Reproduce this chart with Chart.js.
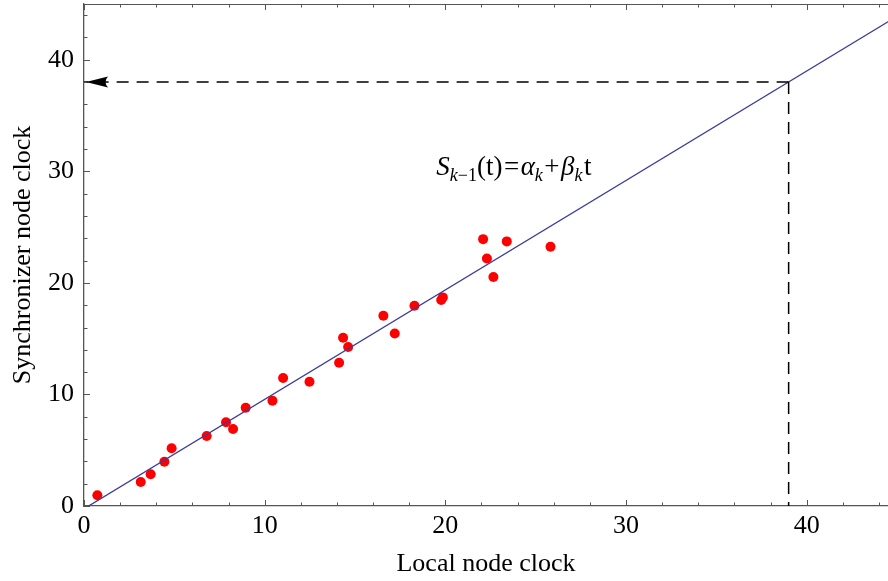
<!DOCTYPE html>
<html>
<head>
<meta charset="utf-8">
<script src="https://cdn.jsdelivr.net/npm/chart.js@4.4.0/dist/chart.umd.min.js"></script>
<style>
html, body { margin: 0; padding: 0; background: #fff; }
</style>
</head>
<body>
<canvas id="myChart" width="888" height="581"></canvas>
<script>
// measured points (local clock vs synchronizer clock)
var localClock = [0.74, 3.14, 3.69, 4.45, 4.85, 6.79, 7.86, 8.25, 8.95, 10.43, 11.02, 12.48, 14.12, 14.34, 14.62, 16.57, 17.2, 18.29, 19.77, 19.86, 22.09, 22.3, 22.66, 23.4, 25.82];
var syncClock = [0.96, 2.15, 2.84, 3.97, 5.17, 6.27, 7.5, 6.9, 8.81, 9.44, 11.47, 11.14, 12.84, 15.08, 14.25, 17.05, 15.47, 17.95, 18.46, 18.7, 23.92, 22.19, 20.52, 23.72, 23.24];

// fitted line S(t) = a + b t
var fitX = [0, 44.5];
var fitY = [-0.25, 43.4];

// projection of local time 39 onto the synchronizer axis
var projLocal = 39;
var projSync = 38;

var xTickValues = [0, 10, 20, 30, 40];
var yTickValues = [0, 10, 20, 30, 40];
var xLabel = 'Local node clock';
var yLabel = 'Synchronizer node clock';

var serif = '"Liberation Serif", "DejaVu Serif", serif';

function toPoints(xs, ys) {
    return xs.map(function (v, i) { return {x: v, y: ys[i]}; });
}

function noPadding(s) {
    s.paddingTop = 0;
    s.paddingBottom = 0;
    s.paddingLeft = 0;
    s.paddingRight = 0;
}

// inward ticks on left, bottom and top, plus the top frame line
var frameTicks = {
    id: 'frameTicks',
    afterDatasetsDraw: function (chart) {
        var ctx = chart.ctx;
        var a = chart.chartArea;
        var x = chart.scales.x;
        var y = chart.scales.y;
        ctx.save();
        ctx.strokeStyle = '#555';
        ctx.lineWidth = 1;
        ctx.beginPath();
        ctx.moveTo(a.left, a.top + 0.5);
        ctx.lineTo(a.right, a.top + 0.5);
        for (var v = 0; v <= x.max; v += 2) {
            var px = Math.round(x.getPixelForValue(v)) + 0.5;
            var len = (v % 10 === 0) ? 6 : 3.5;
            ctx.moveTo(px, a.bottom);
            ctx.lineTo(px, a.bottom - len);
            ctx.moveTo(px, a.top);
            ctx.lineTo(px, a.top + len);
        }
        for (var w = 0; w <= y.max; w += 2) {
            var py = Math.round(y.getPixelForValue(w)) + 0.5;
            var l2 = (w % 10 === 0) ? 6 : 3.5;
            ctx.moveTo(a.left, py);
            ctx.lineTo(a.left + l2, py);
        }
        ctx.stroke();
        ctx.restore();
    }
};

// arrow head on the synchronizer axis and the formula label
var annotations = {
    id: 'annotations',
    afterDatasetsDraw: function (chart) {
        var ctx = chart.ctx;
        var x = chart.scales.x;
        var y = chart.scales.y;
        var tx = x.getPixelForValue(0) + 2;
        var ty = y.getPixelForValue(projSync);
        ctx.save();
        ctx.fillStyle = '#000';
        ctx.beginPath();
        ctx.moveTo(tx, ty);
        ctx.lineTo(tx + 22, ty - 5.5);
        ctx.quadraticCurveTo(tx + 17, ty, tx + 22, ty + 5.5);
        ctx.closePath();
        ctx.fill();

        // S_{k-1}(t)=alpha_k+beta_k t  [text, font, baseline shift, space after]
        var parts = [
            ['S', 'italic 27px', 0, 0],
            ['k', 'italic 18px', 6, 0],
            ['\u22121', '18px', 6, 0],
            ['(t)', '27px', 0, 1.5],
            ['=', '27px', 0, 1.5],
            ['\u03b1', 'italic 27px', 0, 0],
            ['k', 'italic 18px', 6, 1.5],
            ['+', '27px', 0, 1.5],
            ['\u03b2', 'italic 27px', 0, 0],
            ['k', 'italic 18px', 6, 1.5],
            ['t', '27px', 0, 0]
        ];
        var cx = x.getPixelForValue(19.5);
        var by = y.getPixelForValue(29.65);
        ctx.textBaseline = 'alphabetic';
        ctx.textAlign = 'left';
        parts.forEach(function (p) {
            ctx.font = p[1] + ' ' + serif;
            ctx.fillText(p[0], cx, by + p[2]);
            cx += ctx.measureText(p[0]).width + p[3];
        });
        ctx.restore();
    }
};

function init() {
    var tickFont = {family: serif, size: 26};
    var config = {
        type: 'scatter',
        data: {
            datasets: [{
                data: toPoints([projLocal, 0], [projSync, projSync]),
                showLine: true,
                borderColor: '#000',
                borderWidth: 1.5,
                borderDash: [12, 8],
                pointRadius: 0
            }, {
                data: toPoints([projLocal, projLocal], [projSync, 0]),
                showLine: true,
                borderColor: '#000',
                borderWidth: 1.5,
                borderDash: [12, 8],
                pointRadius: 0
            }, {
                data: toPoints(fitX, fitY),
                showLine: true,
                borderColor: '#3c3c9c',
                borderWidth: 1.3,
                pointRadius: 0
            }, {
                data: toPoints(localClock, syncClock),
                backgroundColor: '#ff0000',
                borderWidth: 0,
                pointRadius: 5
            }]
        },
        options: {
            responsive: false,
            animation: false,
            layout: { autoPadding: false, padding: {top: 4, right: 0, left: 0, bottom: 0} },
            plugins: {
                legend: { display: false },
                tooltip: { enabled: false }
            },
            scales: {
                x: {
                    type: 'linear',
                    position: 'bottom',
                    min: 0,
                    max: 44.5,
                    afterFit: function (s) { s.height = 75; noPadding(s); },
                    afterBuildTicks: function (s) { s.ticks = xTickValues.map(function (v) { return {value: v}; }); },
                    ticks: { font: tickFont, color: '#000', padding: 5, maxRotation: 0 },
                    grid: { display: true, drawOnChartArea: false, drawTicks: false },
                    border: { display: true, color: '#555', width: 1.3 },
                    title: { display: true, text: xLabel, font: tickFont, color: '#000', padding: {top: 0, bottom: 1.5} }
                },
                y: {
                    type: 'linear',
                    min: 0,
                    max: 45,
                    afterFit: function (s) { s.width = 84; noPadding(s); },
                    afterBuildTicks: function (s) { s.ticks = yTickValues.map(function (v) { return {value: v}; }); },
                    ticks: { font: tickFont, color: '#000', padding: 10 },
                    grid: { display: true, drawOnChartArea: false, drawTicks: false },
                    border: { display: true, color: '#555', width: 1.3 },
                    title: { display: true, text: yLabel, font: tickFont, color: '#000', padding: {top: 7.5, bottom: 0} }
                }
            }
        },
        plugins: [frameTicks, annotations]
    };
    new Chart(document.getElementById('myChart'), config);
}

window.onload = init;
</script>
</body>
</html>
